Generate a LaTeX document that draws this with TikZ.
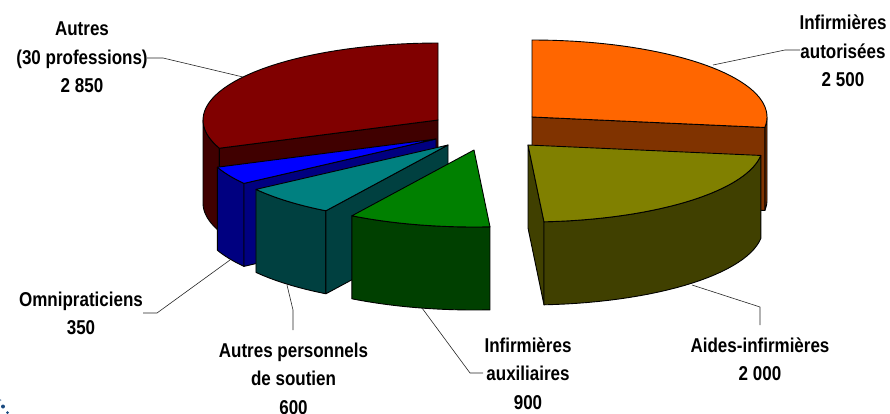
\documentclass[tikz,border=0pt]{standalone}
\usepackage{fontspec}
\newfontfamily\labfont{Liberation Sans}[FakeStretch=0.85]
\definecolor{redT}{HTML}{800000}
\definecolor{redS}{HTML}{400000}
\definecolor{orT}{HTML}{FF6600}
\definecolor{orS}{HTML}{803300}
\definecolor{olT}{HTML}{808000}
\definecolor{olS}{HTML}{404000}
\definecolor{grT}{HTML}{008000}
\definecolor{grS}{HTML}{004000}
\definecolor{tlT}{HTML}{008080}
\definecolor{tlS}{HTML}{004040}
\definecolor{blT}{HTML}{0000FF}
\definecolor{blS}{HTML}{000080}
\definecolor{logo}{HTML}{1A4A80}
\def\RX{235}\def\RY{77}\def\HH{83}
\newcommand{\outerside}[3]{\draw[face,fill=#1] plot[domain=#2:#3,samples=30] ({\RX*cos(\x)},{\RY*sin(\x)}) -- plot[domain=#3:#2,samples=30] ({\RX*cos(\x)},{\RY*sin(\x)-\HH}) -- cycle;}
\newcommand{\radface}[2]{\draw[face,fill=#1] (0,0) -- ({\RX*cos(#2)},{\RY*sin(#2)}) -- ({\RX*cos(#2)},{\RY*sin(#2)-\HH}) -- (0,-\HH) -- cycle;}
\newcommand{\topface}[3]{\draw[face,fill=#1] (0,0) -- plot[domain=#2:#3,samples=40] ({\RX*cos(\x)},{\RY*sin(\x)}) -- cycle;}
\newcommand{\lbl}[1]{\begin{tabular}[t]{@{}c@{}}#1\end{tabular}}
\tikzset{
  face/.style={draw=black, line width=0.9pt, line join=round},
  lab/.style={font=\fontsize{20}{28.5}\selectfont\labfont\bfseries, inner sep=0pt, anchor=base},
  lead/.style={draw=black!85, line width=0.6pt}
}
\begin{document}
\begin{tikzpicture}[x=1pt,y=1pt]
\useasboundingbox (0,0) rectangle (890,413);
\clip (0,0) rectangle (890,413);
% Autres (red)
\begin{scope}[shift={(438,293)}]
  \outerside{redS}{180}{201.5}
  \radface{redS}{201.5}
  \topface{redT}{90}{201.5}
\end{scope}
% Infirmieres autorisees (orange)
\begin{scope}[shift={(532,296)}]
  \outerside{orS}{-7.8}{0}
  \radface{orS}{-7.8}
  \topface{orT}{-7.8}{90}
\end{scope}
% Omnipraticiens (blue)
\begin{scope}[shift={(436,274)}]
  \outerside{blS}{-158.5}{-144.8}
  \radface{blS}{-144.8}
  \topface{blT}{-158.5}{-144.8}
\end{scope}
% Autres personnels de soutien (teal)
\begin{scope}[shift={(448,268)}]
  \outerside{tlS}{-144.8}{-121.3}
  \radface{tlS}{-121.3}
  \topface{tlT}{-144.8}{-121.3}
\end{scope}
% Infirmieres auxiliaires (green)
\begin{scope}[shift={(474,263)}]
  \outerside{grS}{-121.3}{-86.1}
  \topface{grT}{-121.3}{-86.1}
\end{scope}
% Aides-infirmieres (olive)
\begin{scope}[shift={(528,268)}]
  \radface{olS}{-86.1}
  \outerside{olS}{-86.1}{-7.8}
  \topface{olT}{-86.1}{-7.8}
\end{scope}
% labels
\node[lab] (lautres) at (82,377) {\lbl{Autres\\(30 professions)\\2 850}};
\node[lab] (linfaut) at (843,383) {\lbl{Infirmières\\autorisées\\2 500}};
\node[lab] (lomni) at (81,107) {\lbl{Omnipraticiens\\350}};
\node[lab] (lpers) at (293.5,56) {\lbl{Autres personnels\\de soutien\\600}};
\node[lab] (linfaux) at (528,61) {\lbl{Infirmières\\auxiliaires\\900}};
\node[lab] (laides) at (760,61) {\lbl{Aides-infirmières\\2 000}};
% leader lines
\coordinate (a1) at (147,355); \coordinate (a2) at (163,355); \coordinate (a3) at (243,336);
\coordinate (b1) at (800,363); \coordinate (b2) at (785,363); \coordinate (b3) at (713,348);
\coordinate (c1) at (143,100); \coordinate (c2) at (157,100); \coordinate (c3) at (230,153);
\coordinate (d1) at (293,83); \coordinate (d2) at (293,103); \coordinate (d3) at (287,128);
\coordinate (e1) at (483,40); \coordinate (e2) at (470,40); \coordinate (e3) at (422,105);
\coordinate (f1) at (760,88); \coordinate (f2) at (760,106); \coordinate (f3) at (692,128);
\draw[lead] (a1) -- (a2) -- (a3);
\draw[lead] (b1) -- (b2) -- (b3);
\draw[lead] (c1) -- (c2) -- (c3);
\draw[lead] (d1) -- (d2) -- (d3);
\draw[lead] (e1) -- (e2) -- (e3);
\draw[lead] (f1) -- (f2) -- (f3);
% partial logo dots, bottom left
\fill[logo] (3,6.5) circle (2);
\fill[logo] (7.5,0.5) circle (1.5);
\fill[logo!50] (0.5,13) circle (1);
\end{tikzpicture}
\end{document}
